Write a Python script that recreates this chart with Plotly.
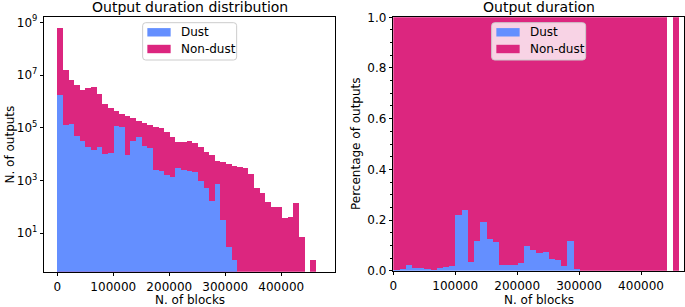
import numpy as np
import plotly.graph_objects as go

# ---- data ----
bin_width = 462000 / 46
bin_left = [i * bin_width for i in range(46)]

non_dust = [589000000, 15100000, 6310000, 4070000, 2630000, 3240000, 3550000, 1860000,
            776000, 575000, 417000, 331000, 275000, 234000, 186000, 145000,
            129000, 105000, 95500, 67600, 43600, 28200, 28200, 30900,
            26900, 18200, 11500, 9330, 5620, 4900, 4270, 3470,
            3160, 2880, 1780, 501, 331, 148, 100, 100,
            37, 42, 135, 7, 0, 1]

dust = [1700000, 129000, 141000, 47900, 30200, 18200, 13800, 18200,
        10200, 10700, 117000, 105000, 9550, 31600, 44700, 20900,
        16300, 2400, 2190, 1660, 1350, 3090, 2570, 2340,
        2140, 912, 501, 166, 759, 32, 3, 1,
        0, 0, 0, 0, 0, 0, 0, 0,
        0, 0, 0, 0, 0, 0]

x_ticks = [0, 100000, 200000, 300000, 400000]
log_ticks = [1e1, 1e3, 1e5, 1e7, 1e9]
log_ticktext = ["10<sup>1</sup>", "10<sup>3</sup>", "10<sup>5</sup>", "10<sup>7</sup>", "10<sup>9</sup>"]
frac_ticks = [0.0, 0.2, 0.4, 0.6, 0.8, 1.0]
series_names = ["Dust", "Non-dust"]

BLUE = "#648FFF"
MAG = "#DC267F"
FONT = "DejaVu Sans"

centers = np.array(bin_left) + bin_width / 2
nd = np.array(non_dust, dtype=float)
du = np.array(dust, dtype=float)
tot = nd + du
has = tot > 0
safe_tot = np.where(has, tot, 1.0)
frac_d = du / safe_tot
frac_n = nd / safe_tot

xc_r = centers[has].tolist()
fd_r = frac_d[has].tolist()
fn_r = frac_n[has].tolist()

def positive(a):
    return [float(v) if v > 0 else None for v in a]

fig = go.Figure()
fig.add_trace(go.Bar(x=centers, y=positive(nd), width=bin_width, name=series_names[1],
                     marker=dict(color=MAG, line=dict(width=0)), xaxis="x", yaxis="y"))
fig.add_trace(go.Bar(x=centers, y=positive(du), width=bin_width, name=series_names[0],
                     marker=dict(color=BLUE, line=dict(width=0)), xaxis="x", yaxis="y"))
fig.add_trace(go.Bar(x=xc_r, y=fn_r, base=fd_r, width=bin_width, name=series_names[1],
                     marker=dict(color=MAG, line=dict(width=0)), xaxis="x2", yaxis="y2"))
fig.add_trace(go.Bar(x=xc_r, y=fd_r, width=bin_width, name=series_names[0],
                     marker=dict(color=BLUE, line=dict(width=0)), xaxis="x2", yaxis="y2"))

W, H = 685, 307
L1, R1, T1, B1 = 44.3, 335.0, 17.3, 271.7
L2, R2, T2, B2 = 393.3, 684.0, 17.3, 270.7

def px(x):
    return x / W

def py(y):
    return 1 - y / H

axis_common = dict(showline=True, linecolor="black", linewidth=1, mirror=True,
                   ticks="outside", ticklen=3.5, tickwidth=1, tickcolor="black",
                   showgrid=False, zeroline=False, automargin=False,
                   tickfont=dict(family=FONT, size=12, color="black"))

fig.update_layout(
    width=W, height=H, margin=dict(l=0, r=0, t=0, b=0, pad=0),
    paper_bgcolor="white", plot_bgcolor="white",
    barmode="overlay", bargap=0, showlegend=False,
    font=dict(family=FONT, color="black"),
    xaxis=dict(domain=[px(L1), px(R1)], range=[-23200, 496000], anchor="y",
               tickvals=x_ticks, ticktext=[str(v) for v in x_ticks], **axis_common),
    yaxis=dict(domain=[py(B1), py(T1)], type="log", range=[-0.463, 9.19], anchor="x",
               tickvals=log_ticks, ticktext=log_ticktext, **axis_common),
    xaxis2=dict(domain=[px(L2), px(R2)], range=[0, 469400], anchor="y2",
                tickvals=x_ticks, ticktext=[str(v) for v in x_ticks], **axis_common),
    yaxis2=dict(domain=[py(B2), py(T2)], range=[0, 1], anchor="x2",
                tickvals=frac_ticks, ticktext=[f"{v:.1f}" for v in frac_ticks],
                minor=dict(ticks="outside", dtick=0.05, ticklen=2, tickcolor="black"),
                **axis_common),
)

ann = [
    dict(text="Output duration distribution", x=px((L1 + R1) / 2), y=py(7),
         xanchor="center", yanchor="middle", font=dict(size=14)),
    dict(text="Output duration", x=px((L2 + R2) / 2), y=py(7),
         xanchor="center", yanchor="middle", font=dict(size=14)),
    dict(text="N. of blocks", x=px((L1 + R1) / 2), y=py(300),
         xanchor="center", yanchor="middle", font=dict(size=12)),
    dict(text="N. of blocks", x=px((L2 + R2) / 2), y=py(300),
         xanchor="center", yanchor="middle", font=dict(size=12)),
    dict(text="N. of outputs", x=px(9), y=py((T1 + B1) / 2), textangle=-90,
         xanchor="center", yanchor="middle", font=dict(size=12)),
    dict(text="Percentage of outputs", x=px(356), y=py((T2 + B2) / 2), textangle=-90,
         xanchor="center", yanchor="middle", font=dict(size=12)),
]

# legends (matplotlib-style boxes, centred at the top of each panel)
shapes = []

def rounded_box(x0, y0, x1, y1, r=3):
    X0, X1 = px(x0), px(x1)
    Y0, Y1 = py(y0), py(y1)
    rx, ry = r / W, r / H
    return (f"M {X0 + rx},{Y0} L {X1 - rx},{Y0} Q {X1},{Y0} {X1},{Y0 - ry} "
            f"L {X1},{Y1 + ry} Q {X1},{Y1} {X1 - rx},{Y1} "
            f"L {X0 + rx},{Y1} Q {X0},{Y1} {X0},{Y1 + ry} "
            f"L {X0},{Y0 - ry} Q {X0},{Y0} {X0 + rx},{Y0} Z")

for cx in [(L1 + R1) / 2, (L2 + R2) / 2]:
    bx0, bx1 = cx - 47, cx + 47
    shapes.append(dict(type="path", path=rounded_box(bx0, 22.7, bx1, 60.0),
                       xref="paper", yref="paper", fillcolor="rgba(255,255,255,0.8)",
                       line=dict(color="#cccccc", width=1), layer="above"))
    for i, (nm, col) in enumerate(zip(series_names, [BLUE, MAG])):
        yc = 32.3 + i * 16.7
        shapes.append(dict(type="rect", x0=px(bx0 + 4.7), x1=px(bx0 + 28), y0=py(yc - 4.2), y1=py(yc + 4.2),
                           xref="paper", yref="paper", fillcolor=col, line=dict(width=0), layer="above"))
        ann.append(dict(text=nm, x=px(bx0 + 36), y=py(yc), xanchor="left", yanchor="middle",
                        font=dict(size=12)))

for a in ann:
    a.update(xref="paper", yref="paper", showarrow=False)
    a["font"].update(family=FONT, color="black")
fig.update_layout(annotations=ann, shapes=shapes)

fig.write_html("out.html",
               config={"displayModeBar": False, "staticPlot": True},
               post_script="document.body.style.margin='0px';document.body.style.padding='0px';"
                           "document.documentElement.style.overflow='hidden';")
